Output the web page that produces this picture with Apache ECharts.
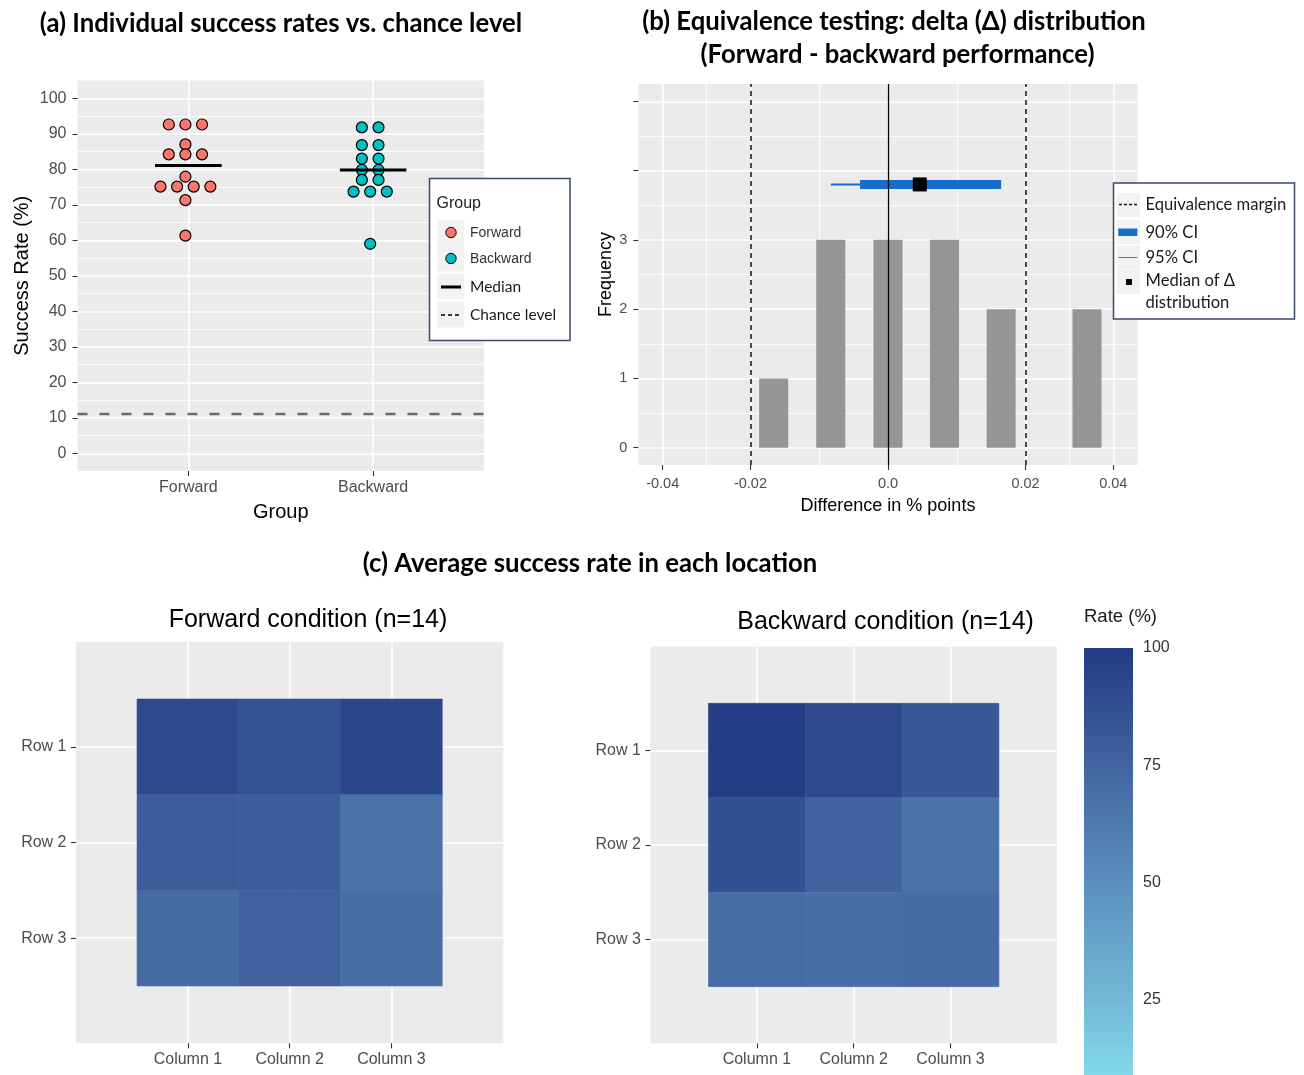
<!DOCTYPE html>
<html>
<head>
<meta charset="utf-8">
<title>Success rates, equivalence test and location heatmaps</title>
<script src="https://cdn.jsdelivr.net/npm/echarts@6/dist/echarts.min.js"></script>
<style>
  html, body { margin: 0; padding: 0; background: #ffffff; }
  #chart { width: 1304px; height: 1075px; }
</style>
</head>
<body>
<div id="chart"></div>
<script>
// ---------------- data ----------------
// (a) individual success rates (%)
const groups = ['Forward', 'Backward'];
const forwardRates = [92.6, 92.6, 92.6, 87.0, 84.2, 84.2, 84.2, 77.9, 75.1, 75.1, 75.1, 75.1, 71.3, 61.3];
const backwardRates = [91.8, 91.8, 86.8, 86.8, 83.0, 83.0, 79.8, 79.8, 77.0, 77.0, 73.7, 73.7, 73.7, 59.0];
const chanceLevel = 100 / 9;
const successTicks = [0, 10, 20, 30, 40, 50, 60, 70, 80, 90, 100];

// (b) delta distribution (forward - backward)
const deltaBins = [-0.016, -0.0075, 0.0, 0.0074, 0.0158, 0.033];
const deltaCounts = [1, 3, 3, 3, 2, 2];
const equivalenceMargin = 0.02;
const ci90 = [-0.0036, 0.0158];
const ci95 = [-0.0075, 0.0158];
const deltaMedian = 0.0041;
const deltaTicks = [-0.04, -0.02, 0.0, 0.02, 0.04];
const deltaTickLabels = ['-0.04', '-0.02', '0.0', '0.02', '0.04'];
const freqTicks = [0, 1, 2, 3, 4, 5];
const freqLabels = [0, 1, 2, 3];

// (c) average success rate per location (rows x columns)
const columns = ['Column 1', 'Column 2', 'Column 3'];
const rows = ['Row 1', 'Row 2', 'Row 3'];
const forwardGrid = [
  [91, 86, 93],
  [80, 80, 67],
  [71, 77, 69]
];
const backwardGrid = [
  [98, 91, 82],
  [87, 76, 66],
  [70, 69, 71]
];
const rateTicks = [25, 50, 75, 100];
const rateStops = [0, 25, 50, 75, 100];
const rateColors = ['#8CEBF5', '#72B8D6', '#5A8FBE', '#42649F', '#233A84'];

// ---------------- styling constants ----------------
const SANS = '"Liberation Sans", Arial, sans-serif';
const HEAD = 'Lato, "Open Sans", sans-serif';
const TITLE_FONT = 'bold 25.7px ' + HEAD;
const PANEL_BG = '#EBEBEB';
const AXIS_TEXT = '#4D4D4D';
const TICK = '#333333';
const DOT_STEP = 0.09;     // horizontal spacing of stacked dots (category units)
const DOT_SHIFT = -0.016;
const MEDIAN_HALF = 0.18;
const CI_LEVEL = 3.8;      // height at which the interval is drawn
const BAR_HALF = 0.093;    // half bar width on the transformed delta axis
const BAR_VISIBLE_MIN = 8.9; // the colour bar runs off the bottom of the page here

// pseudo-log transform of the delta axis
const PL_SIGMA = 0.02;
const tr = v => Math.asinh(v / PL_SIGMA);

function median(arr) {
  const s = arr.slice().sort((a, b) => a - b);
  const m = s.length / 2;
  return s.length % 2 ? s[Math.floor(m)] : (s[m - 1] + s[m]) / 2;
}

// centred dot stacking: equal values sit side by side around the group position
function stackDots(values, groupPos) {
  const counts = {};
  values.forEach(v => { counts[v] = (counts[v] || 0) + 1; });
  const seen = {};
  return values.map(v => {
    const k = counts[v];
    const i = seen[v] = (seen[v] === undefined ? 0 : seen[v] + 1);
    return [groupPos + DOT_SHIFT + (i - (k - 1) / 2) * DOT_STEP, v];
  });
}

function midpoints(ticks) {
  const out = [];
  for (let i = 0; i < ticks.length - 1; i++) out.push((ticks[i] + ticks[i + 1]) / 2);
  return out;
}

function gridCells(matrix) {
  const out = [];
  matrix.forEach((row, r) => row.forEach((v, c) => out.push([c + 1, r + 1, v])));
  return out;
}

const deltaTickT = deltaTicks.map(tr);
const successMinor = midpoints(successTicks);
const freqMinor = midpoints(freqTicks);
const deltaMinorT = midpoints(deltaTickT);

// ---------------- axes helpers ----------------
function majorAxis(o) {
  return {
    type: 'value',
    gridIndex: o.grid,
    min: o.min, max: o.max,
    inverse: !!o.inverse,
    position: o.position,
    axisLine: { show: false, onZero: false },
    axisTick: { show: true, customValues: o.ticks, length: 5, lineStyle: { color: TICK, width: 1.1 } },
    axisLabel: {
      show: true, customValues: o.labels || o.ticks, formatter: o.formatter,
      color: AXIS_TEXT, fontSize: o.fontSize || 16, fontFamily: SANS, margin: o.margin
    },
    splitLine: { show: true, lineStyle: { color: '#ffffff', width: 1.6 } },
    name: o.name, nameLocation: 'middle', nameGap: o.nameGap,
    nameTextStyle: { color: '#000000', fontSize: o.nameSize || 20, fontFamily: SANS }
  };
}
function minorAxis(grid, min, max, values) {
  return {
    type: 'value', gridIndex: grid, min: min, max: max,
    axisLine: { show: false, onZero: false },
    axisTick: { show: false, customValues: values },
    axisLabel: { show: false },
    splitLine: { show: true, lineStyle: { color: '#ffffff', width: 0.9 } }
  };
}
function heatTile(params, api) {
  const x = api.value(0), y = api.value(1);
  const a = api.coord([x - 0.5, y - 0.5]);
  const b = api.coord([x + 0.5, y + 0.5]);
  const col = api.visual('color');
  return { type: 'rect',
           shape: { x: Math.min(a[0], b[0]), y: Math.min(a[1], b[1]), width: Math.abs(b[0] - a[0]), height: Math.abs(b[1] - a[1]) },
           style: { fill: col, stroke: col, lineWidth: 0.6 } };
}
function text(x, y, str, font, fill, align) {
  return { type: 'text', x: x, y: y, z: 100,
           style: { text: str, font: font, fill: fill || '#000', align: align || 'left', verticalAlign: 'middle' } };
}
function box(x, y, w, h, style) {
  return { type: 'rect', z: 99, shape: { x: x, y: y, width: w, height: h }, style: style };
}

const chart = echarts.init(document.getElementById('chart'));

const option = {
  animation: false,
  backgroundColor: '#ffffff',
  textStyle: { fontFamily: SANS },
  grid: [
    { left: 77.5, top: 80.5, width: 406.5, height: 390.5, show: true, backgroundColor: PANEL_BG, borderWidth: 0 },
    { left: 638.3, top: 84, width: 499.4, height: 381, show: true, backgroundColor: PANEL_BG, borderWidth: 0 },
    { left: 76, top: 641.7, width: 427.3, height: 401.6, show: true, backgroundColor: PANEL_BG, borderWidth: 0 },
    { left: 650.4, top: 646.7, width: 406.6, height: 396.6, show: true, backgroundColor: PANEL_BG, borderWidth: 0 },
    { left: 1084, top: 648, width: 49, height: 427, show: false }
  ],
  xAxis: [
    majorAxis({ grid: 0, min: 0.4, max: 2.6, ticks: [1, 2], formatter: v => groups[Math.round(v) - 1],
                margin: 9, name: 'Group', nameGap: 31 }),
    majorAxis({ grid: 1, min: -1.6, max: 1.6, ticks: deltaTickT, fontSize: 14.5, margin: 11,
                formatter: v => deltaTickLabels[deltaTickT.findIndex(t => Math.abs(t - v) < 1e-6)],
                name: 'Difference in % points', nameGap: 32, nameSize: 18 }),
    minorAxis(1, -1.6, 1.6, deltaMinorT),
    majorAxis({ grid: 2, min: -0.1, max: 4.1, ticks: [1, 2, 3], formatter: v => columns[Math.round(v) - 1], margin: 8 }),
    majorAxis({ grid: 3, min: -0.1, max: 4.1, ticks: [1, 2, 3], formatter: v => columns[Math.round(v) - 1], margin: 8 }),
    { type: 'value', gridIndex: 4, min: 0, max: 1, show: false }
  ],
  yAxis: [
    majorAxis({ grid: 0, min: -5, max: 105, ticks: successTicks, margin: 11,
                name: 'Success Rate (%)', nameGap: 45 }),
    minorAxis(0, -5, 105, successMinor),
    majorAxis({ grid: 1, min: -0.25, max: 5.25, ticks: freqTicks, labels: freqLabels, fontSize: 14.5, margin: 11,
                name: 'Frequency', nameGap: 19, nameSize: 18 }),
    minorAxis(1, -0.25, 5.25, freqMinor),
    majorAxis({ grid: 2, min: -0.1, max: 4.1, inverse: true, ticks: [1, 2, 3], formatter: v => rows[Math.round(v) - 1], margin: 9.5 }),
    majorAxis({ grid: 3, min: -0.1, max: 4.1, inverse: true, ticks: [1, 2, 3], formatter: v => rows[Math.round(v) - 1], margin: 9.5 }),
    {
      type: 'value', gridIndex: 4, min: BAR_VISIBLE_MIN, max: 100, position: 'left',
      axisLine: { show: false, onZero: false },
      axisTick: { show: true, inside: true, customValues: rateTicks, length: 9, lineStyle: { color: '#ffffff', width: 1.4 } },
      axisLabel: { show: false }, splitLine: { show: false }
    },
    {
      type: 'value', gridIndex: 4, min: BAR_VISIBLE_MIN, max: 100, position: 'right',
      axisLine: { show: false, onZero: false },
      axisTick: { show: true, inside: true, customValues: rateTicks, length: 9, lineStyle: { color: '#ffffff', width: 1.4 } },
      axisLabel: { show: true, customValues: rateTicks, color: '#333333', fontSize: 16, fontFamily: SANS, margin: 10 },
      splitLine: { show: false }
    }
  ],
  visualMap: [{
    type: 'continuous', show: false, min: 0, max: 100, dimension: 2,
    seriesIndex: [7, 8], inRange: { color: rateColors }
  }],
  series: [
    // (a) dot plots
    {
      type: 'scatter', name: 'Forward', xAxisIndex: 0, yAxisIndex: 0, z: 3,
      data: stackDots(forwardRates, 1), symbolSize: 11,
      itemStyle: { color: '#F8766D', borderColor: '#000000', borderWidth: 1.2, opacity: 1 }
    },
    {
      type: 'scatter', name: 'Backward', xAxisIndex: 0, yAxisIndex: 0, z: 3,
      data: stackDots(backwardRates, 2), symbolSize: 11,
      itemStyle: { color: '#00BFC4', borderColor: '#000000', borderWidth: 1.2, opacity: 1 },
      markLine: {
        silent: true, symbol: ['none', 'none'], label: { show: false }, z: 2,
        lineStyle: { color: '#6B6B6B', width: 2.3, type: [10, 12] },
        data: [{ yAxis: chanceLevel }]
      }
    },
    {
      type: 'custom', name: 'Median', xAxisIndex: 0, yAxisIndex: 0, z: 6,
      data: [[1, median(forwardRates)], [2, median(backwardRates)]],
      encode: { x: 0, y: 1 },
      renderItem: function (params, api) {
        const x = api.value(0), y = api.value(1);
        const a = api.coord([x - MEDIAN_HALF, y]);
        const b = api.coord([x + MEDIAN_HALF, y]);
        return { type: 'line', shape: { x1: a[0], y1: a[1], x2: b[0], y2: b[1] },
                 style: { stroke: '#000000', lineWidth: 3 } };
      }
    },
    // (b) histogram of deltas with margins and zero line
    {
      type: 'custom', name: 'Delta', xAxisIndex: 1, yAxisIndex: 2, z: 2,
      data: deltaBins.map((d, i) => [tr(d), deltaCounts[i]]),
      encode: { x: 0, y: 1 },
      renderItem: function (params, api) {
        const t = api.value(0), c = api.value(1);
        const a = api.coord([t - BAR_HALF, c]);
        const b = api.coord([t + BAR_HALF, 0]);
        return { type: 'rect', shape: { x: a[0], y: a[1], width: b[0] - a[0], height: b[1] - a[1] },
                 style: { fill: '#959595' } };
      },
      markLine: {
        silent: true, symbol: ['none', 'none'], label: { show: false }, z: 5,
        lineStyle: { color: '#111111', width: 1.5, type: [5, 4] },
        data: [
          { xAxis: tr(-equivalenceMargin) },
          { xAxis: tr(equivalenceMargin) },
          { xAxis: tr(0), lineStyle: { type: 'solid', width: 1.3, color: '#000000' } }
        ]
      }
    },
    {
      type: 'custom', name: '95% CI', xAxisIndex: 1, yAxisIndex: 2, z: 3,
      data: [[tr(ci95[0]), tr(ci95[1]), CI_LEVEL]],
      encode: { x: [0, 1], y: 2 },
      renderItem: function (params, api) {
        const a = api.coord([api.value(0), api.value(2)]);
        const b = api.coord([api.value(1), api.value(2)]);
        return { type: 'line', shape: { x1: a[0], y1: a[1], x2: b[0], y2: b[1] },
                 style: { stroke: '#1A6DCC', lineWidth: 2 } };
      }
    },
    {
      type: 'custom', name: '90% CI', xAxisIndex: 1, yAxisIndex: 2, z: 4,
      data: [[tr(ci90[0]), tr(ci90[1]), CI_LEVEL]],
      encode: { x: [0, 1], y: 2 },
      renderItem: function (params, api) {
        const a = api.coord([api.value(0), api.value(2)]);
        const b = api.coord([api.value(1), api.value(2)]);
        return { type: 'rect', shape: { x: a[0], y: a[1] - 4.5, width: b[0] - a[0], height: 9 },
                 style: { fill: '#156CCD' } };
      }
    },
    {
      type: 'scatter', name: 'Median of delta', xAxisIndex: 1, yAxisIndex: 2, z: 7,
      data: [[tr(deltaMedian), CI_LEVEL]], symbol: 'rect', symbolSize: 14,
      itemStyle: { color: '#000000', opacity: 1 }
    },
    // (c) location heatmaps
    {
      type: 'custom', name: 'Forward condition', xAxisIndex: 3, yAxisIndex: 4, z: 3,
      data: gridCells(forwardGrid), encode: { x: 0, y: 1 }, renderItem: heatTile
    },
    {
      type: 'custom', name: 'Backward condition', xAxisIndex: 4, yAxisIndex: 5, z: 3,
      data: gridCells(backwardGrid), encode: { x: 0, y: 1 }, renderItem: heatTile
    },
    // colour bar for the rate scale (0 to 100)
    {
      type: 'custom', name: 'Rate (%)', xAxisIndex: 5, yAxisIndex: 6, z: 1, clip: false,
      data: [[0, 0]], encode: { x: 0, y: 1 },
      renderItem: function (params, api) {
        const a = api.coord([0, 100]);
        const b = api.coord([1, 0]);
        const stops = rateStops.map((v, i) => ({ offset: (100 - v) / 100, color: rateColors[i] })).reverse();
        return { type: 'rect', shape: { x: a[0], y: a[1], width: b[0] - a[0], height: b[1] - a[1] },
                 style: { fill: new echarts.graphic.LinearGradient(0, 0, 0, 1, stops) } };
      }
    }
  ],
  graphic: {
    elements: [
      // panel titles
      text(281, 24, '(a) Individual success rates vs. chance level', TITLE_FONT, '#000', 'center'),
      text(894, 22, '(b) Equivalence testing: delta (\u0394) distribution', TITLE_FONT, '#000', 'center'),
      text(897.5, 55, '(Forward - backward performance)', TITLE_FONT, '#000', 'center'),
      text(590, 564, '(c) Average success rate in each location', TITLE_FONT, '#000', 'center'),
      text(308, 620, 'Forward condition (n=14)', '25px ' + SANS, '#000', 'center'),
      text(885.6, 622, 'Backward condition (n=14)', '25px ' + SANS, '#000', 'center'),
      text(1084, 617, 'Rate (%)', '18.5px ' + SANS, '#1a1a1a'),

      // legend of panel (a)
      box(429.5, 178.5, 140.5, 162, { fill: '#ffffff', stroke: '#3B4A69', lineWidth: 1.5 }),
      text(436.5, 204, 'Group', '16px ' + SANS, '#222'),
      box(437.7, 219.5, 26.6, 26, { fill: '#F2F2F2' }),
      box(437.7, 245.5, 26.6, 26, { fill: '#F2F2F2' }),
      box(437.7, 273.5, 26.6, 26, { fill: '#F2F2F2' }),
      box(437.7, 301.5, 26.6, 26, { fill: '#F2F2F2' }),
      { type: 'circle', z: 100, shape: { cx: 451, cy: 232.5, r: 5.2 }, style: { fill: '#F8766D', stroke: '#000', lineWidth: 1 } },
      { type: 'circle', z: 100, shape: { cx: 451, cy: 258.5, r: 5.2 }, style: { fill: '#00BFC4', stroke: '#000', lineWidth: 1 } },
      { type: 'line', z: 100, shape: { x1: 441, y1: 287, x2: 461, y2: 287 }, style: { stroke: '#000', lineWidth: 3 } },
      { type: 'line', z: 100, shape: { x1: 441, y1: 315, x2: 461, y2: 315 }, style: { stroke: '#000', lineWidth: 1.5, lineDash: [4, 3] } },
      text(470, 233, 'Forward', '14px ' + SANS, '#333'),
      text(470, 259, 'Backward', '14px ' + SANS, '#333'),
      text(470, 287, 'Median', '15.5px ' + HEAD, '#1a1a1a'),
      text(470, 315, 'Chance level', '15.5px ' + HEAD, '#1a1a1a'),

      // legend of panel (b)
      box(1113.5, 183, 181, 136, { fill: '#ffffff', stroke: '#3B4A69', lineWidth: 1.5 }),
      box(1116.7, 193, 23.3, 24, { fill: '#F2F2F2' }),
      box(1116.7, 220, 23.3, 24, { fill: '#F2F2F2' }),
      box(1116.7, 245.5, 23.3, 24, { fill: '#F2F2F2' }),
      box(1116.7, 270, 23.3, 24, { fill: '#F2F2F2' }),
      { type: 'line', z: 100, shape: { x1: 1119, y1: 204.5, x2: 1137, y2: 204.5 }, style: { stroke: '#111', lineWidth: 1.5, lineDash: [3, 2] } },
      { type: 'rect', z: 100, shape: { x: 1118.3, y: 228.5, width: 19, height: 7.5 }, style: { fill: '#156CCD' } },
      { type: 'line', z: 100, shape: { x1: 1118.3, y1: 257.5, x2: 1137.3, y2: 257.5 }, style: { stroke: '#3F78D0', lineWidth: 1 } },
      { type: 'rect', z: 100, shape: { x: 1126, y: 279, width: 6, height: 6 }, style: { fill: '#000' } },
      text(1145.5, 205, 'Equivalence margin', '16.6px ' + HEAD, '#1a1a1a'),
      text(1145.5, 232.5, '90% CI', '16.6px ' + HEAD, '#1a1a1a'),
      text(1145.5, 257.5, '95% CI', '16.6px ' + HEAD, '#1a1a1a'),
      text(1145.5, 281, 'Median of \u0394', '16.6px ' + HEAD, '#1a1a1a'),
      text(1145.5, 303, 'distribution', '16.6px ' + HEAD, '#1a1a1a')
    ]
  }
};

chart.setOption(option);
</script>
</body>
</html>
